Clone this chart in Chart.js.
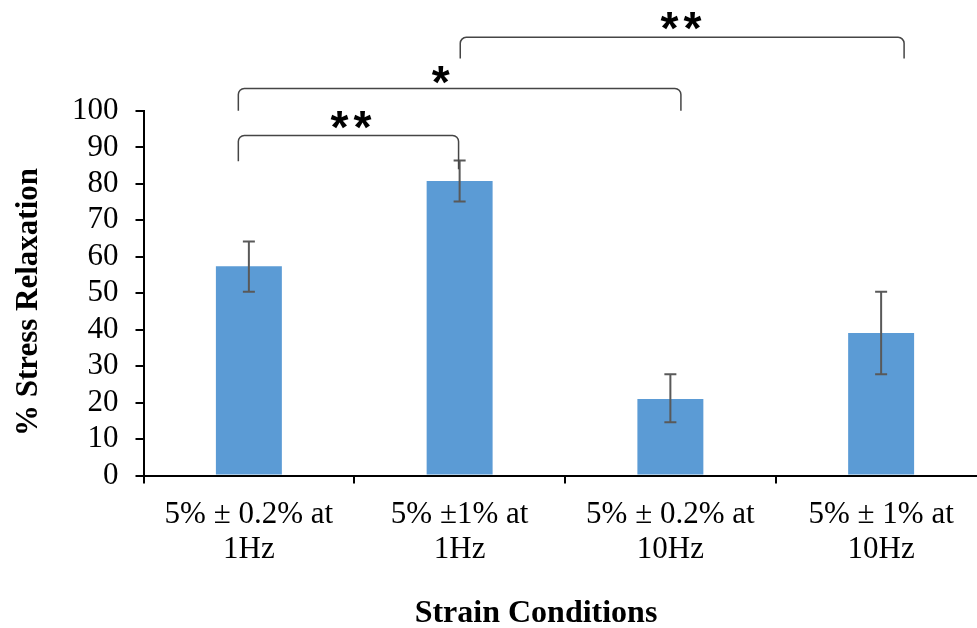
<!DOCTYPE html>
<html><head><meta charset="utf-8">
<style>
html,body{margin:0;padding:0;background:#fff;overflow:hidden;width:977px;height:628px}
#wrap{position:relative;width:990px;height:628px}
</style>
<script src="https://cdn.jsdelivr.net/npm/chart.js@4.4.0/dist/chart.umd.min.js"></script>
</head><body>
<div id="wrap"><canvas id="c" width="990" height="628"></canvas></div>
<script>
// ---- data ----
const categories = [["5% ± 0.2% at", "1Hz"], ["5% ±1% at", "1Hz"], ["5% ± 0.2% at", "10Hz"], ["5% ± 1% at", "10Hz"]];
const relaxation = [57.4, 80.8, 21.0, 39.1];
const errorHigh = [64.2, 86.4, 27.8, 50.4];
const errorLow = [50.4, 75.2, 14.6, 27.8];
const yTicks = [0, 10, 20, 30, 40, 50, 60, 70, 80, 90, 100];
const sigLabels = ["**", "*", "**"];
const sigFrom = [0, 0, 1];
const sigTo = [1, 2, 3];
const yTitle = "% Stress Relaxation";
const xTitle = "Strain Conditions";

// ---- annotation geometry (bracket placement, in axis units) ----
const bracketGeom = [
  { x1: -0.05, x2: 0.995, top: 93.3, end1: 86.2, end2: 84.0, labelX: 0.485, labelY: 97.4 },
  { x1: -0.05, x2: 2.05, top: 106.2, end1: 100.1, end2: 100.1, labelX: 0.91, labelY: 110.0 },
  { x1: 1.003, x2: 3.109, top: 120.2, end1: 114.4, end2: 114.4, labelX: 2.05, labelY: 124.8 }
];

const overlay = {
  id: 'overlay',
  afterDatasetsDraw(chart) {
    const { ctx, scales: { x, y } } = chart;
    const meta = chart.getDatasetMeta(0);
    ctx.save();
    // error bars
    ctx.strokeStyle = '#595959';
    ctx.lineWidth = 2;
    relaxation.forEach((v, i) => {
      const px = meta.data[i].x;
      const yt = y.getPixelForValue(errorHigh[i]);
      const yb = y.getPixelForValue(errorLow[i]);
      ctx.beginPath();
      ctx.moveTo(px, yt); ctx.lineTo(px, yb);
      ctx.moveTo(px - 6, yt); ctx.lineTo(px + 6, yt);
      ctx.moveTo(px - 6, yb); ctx.lineTo(px + 6, yb);
      ctx.stroke();
    });
    // significance brackets
    ctx.strokeStyle = '#454545';
    ctx.lineWidth = 1.5;
    const r = 6;
    ctx.fillStyle = '#000';
    ctx.font = 'bold 100px "Liberation Sans"';
    const m = ctx.measureText('*');
    const gw = m.actualBoundingBoxLeft + m.actualBoundingBoxRight;
    const size = 100 * 18 / gw;
    ctx.font = 'bold ' + size.toFixed(1) + 'px "Liberation Sans"';
    const m2 = ctx.measureText('*');
    const a = m2.actualBoundingBoxAscent, d = m2.actualBoundingBoxDescent;
    ctx.textAlign = 'center';
    ctx.textBaseline = 'alphabetic';
    sigLabels.forEach((lab, k) => {
      const g = bracketGeom[k];
      const xa = x.getPixelForValue(sigFrom[k] + (g.x1 - Math.round(g.x1)));
      const xb = x.getPixelForValue(sigTo[k] + (g.x2 - Math.round(g.x2)));
      const yTop = y.getPixelForValue(g.top);
      const y1 = y.getPixelForValue(g.end1);
      const y2 = y.getPixelForValue(g.end2);
      ctx.beginPath();
      ctx.moveTo(xa, y1);
      ctx.arcTo(xa, yTop, xa + r, yTop, r);
      ctx.arcTo(xb, yTop, xb, yTop + r, r);
      ctx.lineTo(xb, y2);
      ctx.stroke();
      const cx = x.getPixelForValue(g.labelX);
      const cy = y.getPixelForValue(g.labelY);
      const base = cy + (a - d) / 2;
      const n = lab.length, step = 23;
      for (let j = 0; j < n; j++) {
        ctx.fillText(lab[j], cx + (j - (n - 1) / 2) * step, base);
      }
    });
    ctx.restore();
  },
  afterDraw(chart) {
    const { ctx } = chart;
    ctx.save();
    ctx.fillStyle = '#000';
    ctx.font = 'bold 32px "Liberation Serif"';
    ctx.textAlign = 'center';
    ctx.textBaseline = 'alphabetic';
    ctx.fillText(xTitle, 536, 622);
    ctx.font = 'bold 31px "Liberation Serif"';
    ctx.translate(37, 302);
    ctx.rotate(-Math.PI / 2);
    ctx.fillText(yTitle, 0, 0);
    ctx.restore();
  }
};

new Chart(document.getElementById('c'), {
  type: 'bar',
  data: {
    labels: categories,
    datasets: [{
      data: relaxation,
      backgroundColor: '#5B9BD5',
      borderWidth: 0,
      barPercentage: 0.313,
      categoryPercentage: 1.0
    }]
  },
  options: {
    responsive: false,
    animation: false,
    layout: { padding: { top: 111, right: 3.5, bottom: 0, left: 0 } },
    plugins: { legend: { display: false }, tooltip: { enabled: false } },
    scales: {
      x: {
        offset: true,
        afterFit: s => { s.height = 152.5; },
        border: { display: true, color: '#000', width: 2 },
        grid: { offset: true, drawOnChartArea: false, drawTicks: true, tickLength: 8, color: '#000', lineWidth: 2 },
        ticks: { color: '#000', padding: 14, maxRotation: 0, autoSkip: false,
          font: { family: 'Liberation Serif', size: 31, lineHeight: 1.13 } }
      },
      y: {
        min: 0, max: 100,
        afterFit: s => { s.width = 143.5; },
        afterBuildTicks: s => { s.ticks = yTicks.map(v => ({ value: v })); },
        border: { display: true, color: '#000', width: 2 },
        grid: { drawOnChartArea: false, drawTicks: true, tickLength: 8, color: '#000', lineWidth: 2 },
        ticks: { color: '#000', padding: 17, autoSkip: false,
          font: { family: 'Liberation Serif', size: 31 } }
      }
    }
  },
  plugins: [overlay]
});
</script>
</body></html>
